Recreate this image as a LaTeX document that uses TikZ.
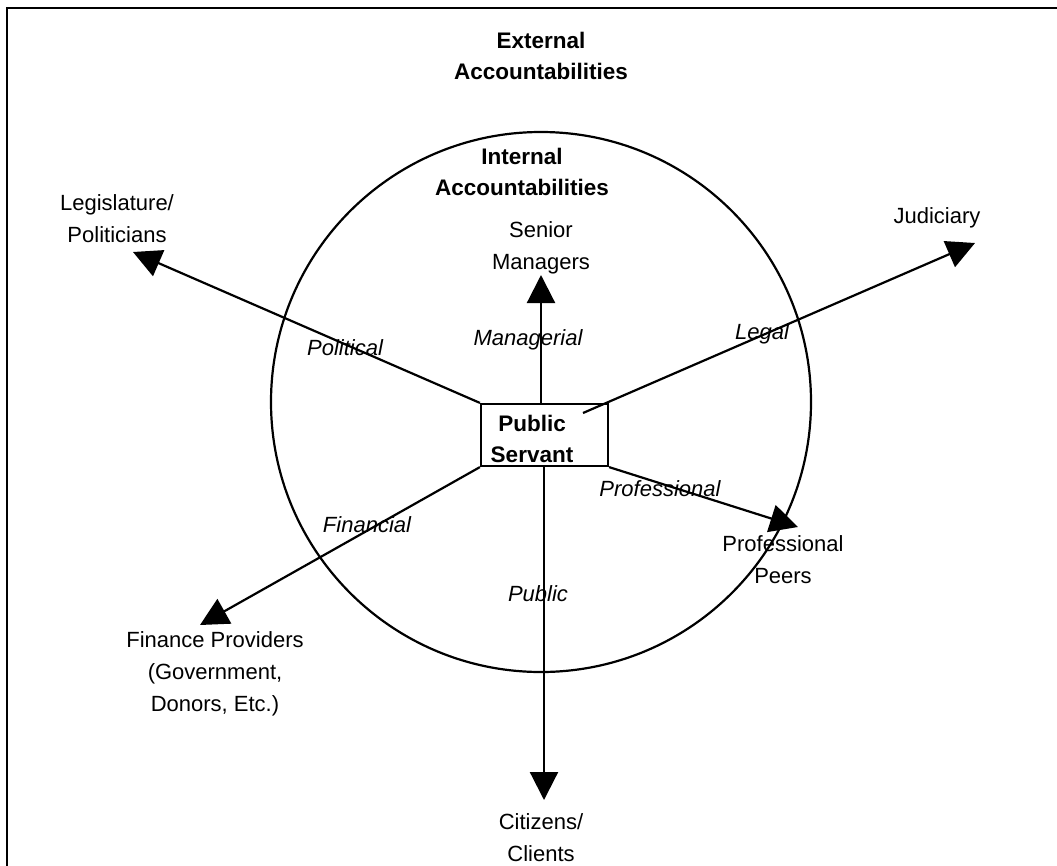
\documentclass[tikz,border=0pt]{standalone}
\usepackage{fontspec}
\setmainfont{Liberation Sans}
\usetikzlibrary{arrows.meta}
\begin{document}
\begin{tikzpicture}[x=1pt,y=-1pt,
  lbl/.style={font=\fontsize{22}{32}\selectfont, align=center, inner sep=0pt},
  hdr/.style={font=\fontsize{22.5}{31}\selectfont\bfseries, align=center, inner sep=0pt},
  rel/.style={font=\fontsize{22}{26}\selectfont\itshape, inner sep=0pt},
  conn/.style={line width=2.2pt, -{Triangle[length=28pt,width=28pt]}},
]
\useasboundingbox (0,0) rectangle (1057,865);
\begin{scope}
\clip (0,0) rectangle (1057,865);
\draw[line width=2.2pt] (7,8) rectangle (1090,900);
\end{scope}
\node[circle, draw, line width=2.2pt, minimum size=540pt, inner sep=0pt] (circ) at (541,402) {};
\node[draw, line width=2.2pt, minimum width=127pt, minimum height=62pt, inner sep=0pt] (ps) at (544.5,435) {};
\node[hdr] (pstext) at (532,439) {Public\\Servant};

\node[hdr] (ext) at (541,56) {External\\Accountabilities};
\node[hdr] (int) at (522,172) {Internal\\Accountabilities};

\node[lbl] (sen) at (541,248) {Senior\\Managers};
\node[lbl] (leg) at (117,219) {Legislature/\\Politicians};
\node[lbl] (jud) at (937,218) {Judiciary};
\node[lbl] (peer) at (783,560) {Professional\\Peers};
\node[lbl] (fin) at (215,674) {Finance Providers\\(Government,\\Donors, Etc.)};
\node[lbl] (cit) at (541,838) {Citizens/\\Clients};

\coordinate (tPol) at (133,252);
\coordinate (tMan) at (541,275);
\coordinate (sLeg) at (583,413);
\coordinate (tLeg) at (975,243);
\coordinate (tPro) at (798,527);
\coordinate (tFin) at (200,625);
\coordinate (tPub) at (544,800);

\draw[conn] (ps.north west) -- (tPol);
\draw[conn] (ps.north -| tMan) -- (tMan);
\draw[conn] (sLeg) -- (tLeg);
\draw[conn] (ps.south east) -- (tPro);
\draw[conn] (ps.south west) -- (tFin);
\draw[conn] (ps.south -| tPub) -- (tPub);

\node[rel] (lPol) at (345,348) {Political};
\node[rel] (lMan) at (528,340) {Managerial};
\node[rel] (lLeg) at (762,334) {Legal};
\node[rel] (lPro) at (660,489) {Professional};
\node[rel] (lFin) at (367,525) {Financial};
\node[rel] (lPub) at (538,594) {Public};
\end{tikzpicture}
\end{document}
